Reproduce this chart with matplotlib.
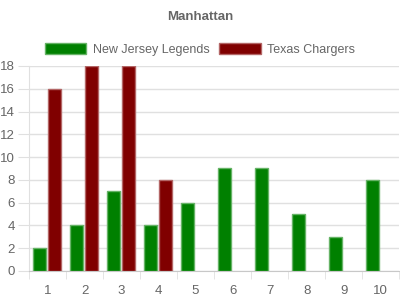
import numpy as np
import matplotlib
matplotlib.use('Agg')
import matplotlib.pyplot as plt
from matplotlib.patches import Patch

plt.rcParams['font.family'] = ['Liberation Sans', 'DejaVu Sans']

# Chart data
categories = ['1', '2', '3', '4', '5', '6', '7', '8', '9', '10']
nj_legends = [2, 4, 7, 4, 6, 9, 9, 5, 3, 8]
tx_chargers = [16, 18, 18, 8, 0, 0, 0, 0, 0, 0]

green = '#008000'
green_edge = '#66b366'
red = '#800000'
red_edge = '#b36666'
text_col = '#666666'
grid_col = '#e0e0e0'

fig = plt.figure(figsize=(4, 3), dpi=100)
ax = fig.add_axes([0.0725, 0.0967, 0.9255, 0.6833])

x = np.arange(1, len(categories) + 1)
w = 0.35
ax.bar(x - 0.21, nj_legends, width=w, color=green, edgecolor=green_edge,
       linewidth=[1 if v else 0 for v in nj_legends], zorder=3)
ax.bar(x + 0.18, tx_chargers, width=w, color=red, edgecolor=red_edge,
       linewidth=[1 if v else 0 for v in tx_chargers], zorder=3)

ax.set_xlim(0.5, 10.5)
ax.set_ylim(0, 18)
ax.set_yticks(range(0, 19, 2))
ax.set_xticks(x)
ax.set_xticklabels(categories)
ax.set_xticks(np.arange(0.5, 11, 1), minor=True)

ax.grid(axis='y', color=grid_col, linewidth=1, zorder=0)
for s in ['top', 'right']:
    ax.spines[s].set_visible(False)
ax.spines['left'].set_color(grid_col)
ax.spines['bottom'].set_color('#c8c8c8')

ax.tick_params(axis='y', length=8, color=grid_col, labelcolor=text_col, labelsize=9.5, pad=2)
ax.tick_params(axis='x', which='major', length=0, labelcolor=text_col, labelsize=9.5, pad=10)
ax.tick_params(axis='x', which='minor', length=6, color=grid_col)

fig.text(0.5, 0.945, 'Manhattan', ha='center', va='center', fontsize=9.5,
         fontweight='bold', color=text_col)

handles = [Patch(facecolor=green, edgecolor=green_edge, label='New Jersey Legends'),
           Patch(facecolor=red, edgecolor=red_edge, label='Texas Chargers')]
fig.legend(handles=handles, loc='center', bbox_to_anchor=(0.5, 0.835), ncol=2,
           frameon=False, fontsize=9, labelcolor=text_col, handlelength=3.3,
           handleheight=0.95, handletextpad=0.5, columnspacing=0.8)

fig.savefig('out.png', dpi=100)
